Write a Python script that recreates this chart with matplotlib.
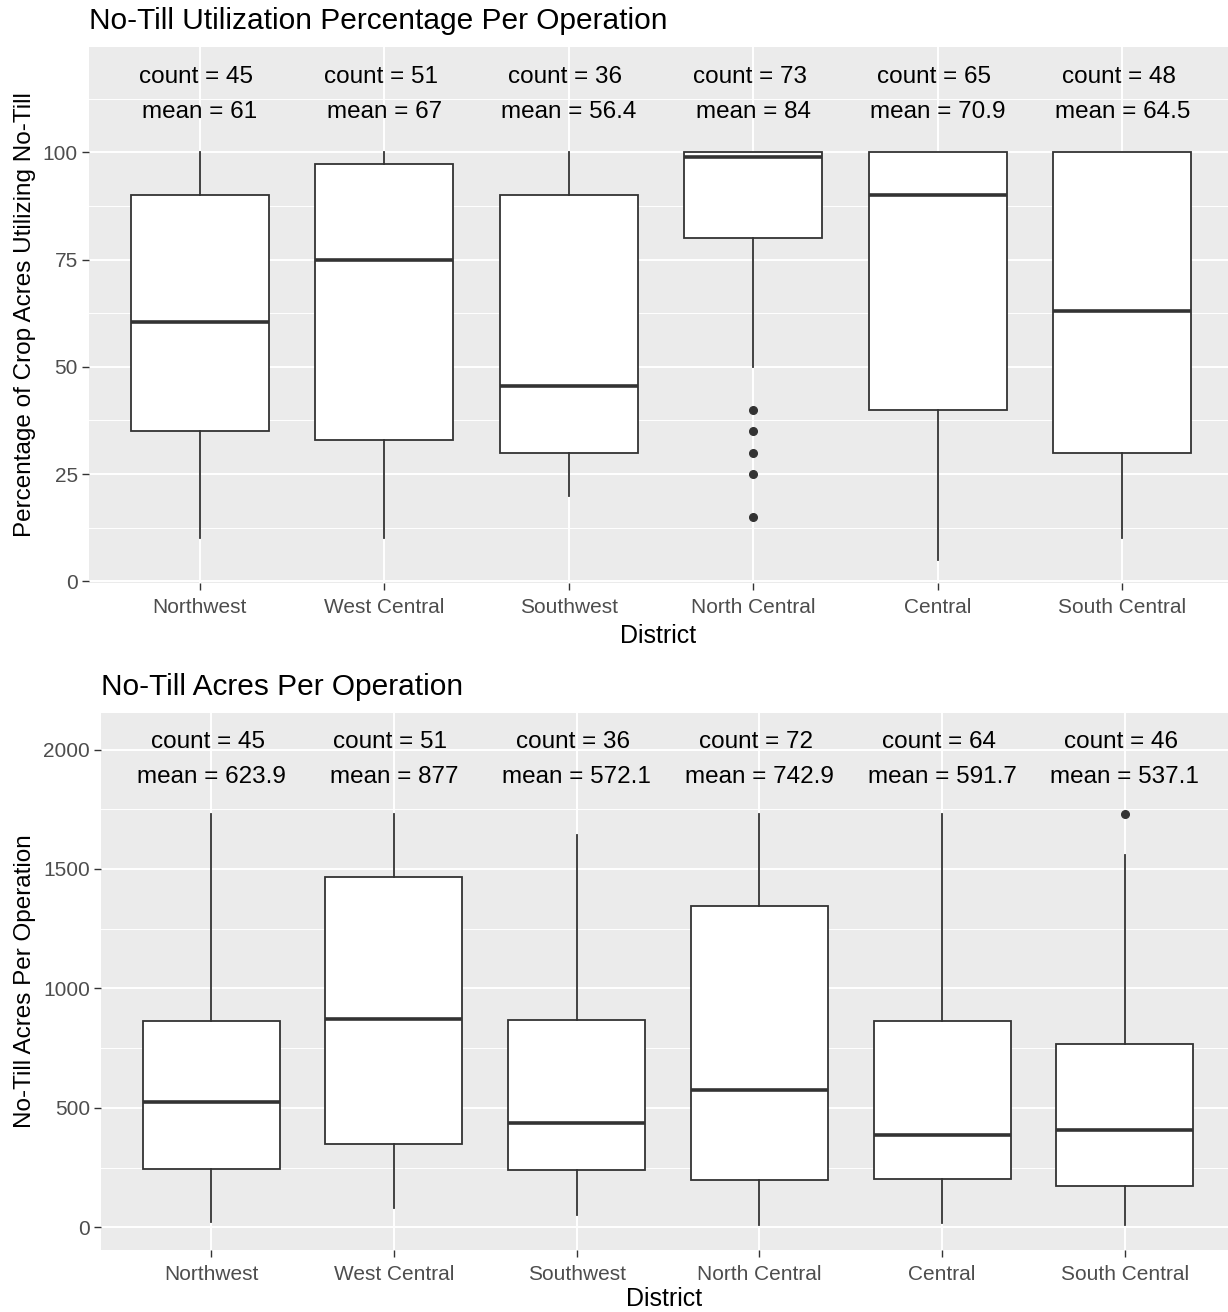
import matplotlib
matplotlib.use('Agg')
import matplotlib.pyplot as plt
from matplotlib.ticker import MultipleLocator

plt.rcParams['font.family'] = ['Liberation Sans', 'DejaVu Sans']

districts = ["Northwest", "West Central", "Southwest", "North Central", "Central", "South Central"]

# Panel 1: No-till utilization percentage
pct_whislo = [10, 10, 20, 50, 5, 10]
pct_q1 = [35, 33, 30, 80, 40, 30]
pct_med = [60.5, 75, 45.5, 99, 90, 63]
pct_q3 = [90, 97.2, 90, 100, 100, 100]
pct_whishi = [100, 100, 100, 100, 100, 100]
pct_fliers = [[], [], [], [40, 35, 30, 25, 15], [], []]
pct_count = [45, 51, 36, 73, 65, 48]
pct_mean = [61, 67, 56.4, 84, 70.9, 64.5]

# Panel 2: No-till acres per operation
ac_whislo = [21, 80, 52, 10, 17, 10]
ac_q1 = [245, 349, 238, 196, 203, 173]
ac_med = [526, 870, 436, 575, 386, 408]
ac_q3 = [862, 1468, 867, 1346, 865, 767]
ac_whishi = [1731, 1731, 1641, 1732, 1732, 1557]
ac_fliers = [[], [], [], [], [], [1729]]
ac_count = [45, 51, 36, 72, 64, 46]
ac_mean = [623.9, 877, 572.1, 742.9, 591.7, 537.1]

W, H = 1228, 1312
fig = plt.figure(figsize=(W / 100, H / 100), dpi=100)

BG = '#EBEBEB'
DARK = '#333333'
TICKC = '#4D4D4D'


def style_axes(ax):
    ax.set_facecolor(BG)
    for s in ax.spines.values():
        s.set_visible(False)
    ax.grid(True, which='major', color='white', lw=1.4)
    ax.grid(True, which='minor', axis='y', color='white', lw=0.7)
    ax.set_axisbelow(True)
    ax.tick_params(axis='both', which='major', length=5, width=1.0, color=DARK,
                   labelsize=15, labelcolor=TICKC)
    ax.tick_params(axis='x', which='major', pad=6)
    ax.tick_params(axis='y', which='major', pad=3)
    ax.tick_params(axis='both', which='minor', length=0)


def draw_panel(ax, whislo, q1, med, q3, whishi, fliers, counts, means,
               ylim, major, ytext_c, ytext_m, title, ylabel, xlim, xlabelpad):
    stats = []
    for i in range(len(districts)):
        stats.append(dict(med=med[i], q1=q1[i], q3=q3[i], whislo=whislo[i],
                          whishi=whishi[i], fliers=fliers[i], label=districts[i]))
    pos = list(range(1, len(districts) + 1))
    ax.bxp(stats, positions=pos, widths=0.75, patch_artist=True, showcaps=False,
           boxprops=dict(facecolor='white', edgecolor=DARK, lw=1.3),
           whiskerprops=dict(color=DARK, lw=1.3),
           medianprops=dict(color=DARK, lw=2.6, solid_capstyle='butt'),
           flierprops=dict(marker='o', markerfacecolor=DARK, markeredgecolor=DARK,
                           markersize=5.5, linestyle='none'))
    ax.set_xlim(*xlim)
    ax.set_ylim(*ylim)
    ax.yaxis.set_major_locator(MultipleLocator(major))
    ax.yaxis.set_minor_locator(MultipleLocator(major / 2))
    ax.set_xticks(pos)
    ax.set_xticklabels(districts)
    style_axes(ax)
    for i, p in enumerate(pos):
        ax.text(p - 0.02, ytext_c, f"count = {counts[i]}", ha='center', va='center',
                fontsize=17.5, color='black')
        ax.text(p, ytext_m, f"mean = {means[i]:g}", ha='center', va='center',
                fontsize=17.5, color='black')
    ax.set_xlabel('District', fontsize=18, color='black', labelpad=xlabelpad)
    ax.set_ylabel(ylabel, fontsize=17.5, color='black', labelpad=5)
    ax.set_title(title, loc='left', fontsize=21.5, color='black', pad=13)


# top panel
x0, x1 = 89, 1228
yt, yb = 47, 583
ax1 = fig.add_axes([x0 / W, 1 - yb / H, (x1 - x0) / W, (yb - yt) / H])
draw_panel(ax1, pct_whislo, pct_q1, pct_med, pct_q3, pct_whishi, pct_fliers,
           pct_count, pct_mean, (-0.4, 124.6), 25, 117.5, 109.5,
           'No-Till Utilization Percentage Per Operation',
           'Percentage of Crop Acres Utilizing No-Till', (0.4, 6.573), 5)

# bottom panel
x0, x1 = 101, 1228
yt, yb = 713, 1250
ax2 = fig.add_axes([x0 / W, 1 - yb / H, (x1 - x0) / W, (yb - yt) / H])
draw_panel(ax2, ac_whislo, ac_q1, ac_med, ac_q3, ac_whishi, ac_fliers,
           ac_count, ac_mean, (-95, 2153), 500, 2030, 1885,
           'No-Till Acres Per Operation',
           'No-Till Acres Per Operation', (0.397, 6.564), 2)

fig.savefig('out.png', dpi=100, facecolor='white')
